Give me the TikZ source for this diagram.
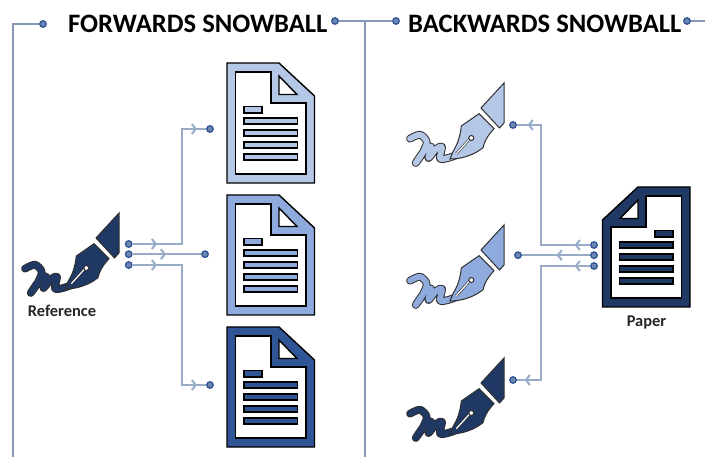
\documentclass[tikz,border=0pt]{standalone}
\usepackage{fontspec}
\setmainfont{Carlito}
\usetikzlibrary{arrows.meta, positioning, decorations.markings}
\definecolor{toneA}{HTML}{B4C7E7}
\definecolor{toneB}{HTML}{8FAADC}
\definecolor{toneC}{HTML}{2F5597}
\definecolor{toneD}{HTML}{1F3864}
\definecolor{linkblue}{HTML}{98ACC8}
\definecolor{frameblue}{HTML}{8497B8}
\definecolor{dotfill}{HTML}{6F86B0}
\definecolor{penline}{HTML}{303030}

\begin{document}
\begin{tikzpicture}[x=1pt, y=-1pt]
    \tikzset{
      heading/.style={font=\bfseries\fontsize{26.6}{26.6}\selectfont, inner sep=0pt},
      caption/.style={font=\bfseries\fontsize{16.4}{16.4}\selectfont, text=black!85, inner sep=0pt},
      dot/.style={circle, draw=toneC, fill=dotfill, line width=1.3pt, minimum size=6.5pt, inner sep=0pt},
      frameline/.style={draw=frameblue, line width=1.8pt},
      onemark/.style={postaction={decorate, decoration={markings,
        mark=at position #1 with {\arrow[line width=2pt]{Straight Barb[length=4pt, width=10pt]}}}}},
      twomarks/.style 2 args={onemark=#1, onemark=#2},
      link/.style={draw=linkblue, color=linkblue, line width=1.8pt},
      pics/docicon/.style={code={
        \fill[#1, draw=black, line width=1.4pt] (0,0) -- (52,0) -- (87.5,33) -- (87.5,120) -- (0,120) -- cycle;
        \fill[white, draw=black, line width=1.4pt] (8.5,9) -- (44,9) -- (44,40) -- (79,40) -- (79,111) -- (8.5,111) -- cycle;
        \fill[white, draw=black, line width=1.4pt] (52,13) -- (52,31.5) -- (70,31.5) -- cycle;
        \filldraw[#1, draw=black, line width=1.4pt] (17,43.5) rectangle (35,50);
        \foreach \y in {55,67,79,91}
          \filldraw[#1, draw=black, line width=1.4pt] (17,\y) rectangle (70.5,\y+6);
      }},
      pics/penicon/.style={code={
        \draw[penline, line width=7.8pt, line cap=round, line join=round] plot[smooth, tension=.5] coordinates {(-94,55.7) (-84,51.7) (-77.3,59) (-82,71) (-88.3,80) (-80,68) (-73,63.5) (-75.5,75) (-68,66) (-62,64) (-64,75.5) (-56,75) (-48.3,72.3)};
        \draw[#1, line width=5.8pt, line cap=round, line join=round] plot[smooth, tension=.5] coordinates {(-94,55.7) (-84,51.7) (-77.3,59) (-82,71) (-88.3,80) (-80,68) (-73,63.5) (-75.5,75) (-68,66) (-62,64) (-64,75.5) (-56,75) (-48.3,72.3)};
        \filldraw[#1, draw=penline, line width=1pt] (0,0) -- (-23,25) -- (-4.5,45) -- (0,40) -- cycle;
        \filldraw[#1, draw=penline, line width=1pt] (-25,30.7) -- (-42.7,43) .. controls (-44,55) and (-47,62) .. (-50.7,68) -- (-54,76) .. controls (-42,76) and (-30,72) .. (-21,64.7) .. controls (-19,56) and (-14,50) .. (-10,45.7) -- cycle;
        \draw[penline, line width=2.4pt] (-47.7,70.7) -- (-33.5,55);
        \draw[white, line width=1.2pt] (-47.7,70.7) -- (-33.5,55);
        \filldraw[white, draw=penline, line width=1pt] (-32.7,55) circle (2.5);
      }}
    }
    \useasboundingbox (0,0) rectangle (705,457);

    \node[heading, anchor=west] (forwards) at (68,24) {FORWARDS SNOWBALL};
    \node[heading, anchor=west] (backwards) at (408,24) {BACKWARDS SNOWBALL};
    \node[dot] (framea) at (43,24) {};
    \node[dot] (frameb) at (335,21) {};
    \node[dot] (framec) at (396,21) {};
    \node[dot] (framed) at (687,21) {};
    \coordinate (cornera) at (13,24);
    \coordinate (basea) at (13,457);
    \coordinate (joinb) at (365,21);
    \coordinate (baseb) at (365,457);
    \coordinate (edged) at (705,21);
    \draw[frameline] (framea) -- (cornera) -- (basea);
    \draw[frameline] (frameb) -- (framec);
    \draw[frameline] (joinb) -- (baseb);
    \draw[frameline] (framed) -- (edged);

    \path (227,63) pic (doca) {docicon=toneA};
    \path (227,195) pic (docb) {docicon=toneB};
    \path (227,327) pic (docc) {docicon=toneC};
    \path (690,187) pic[xscale=-1] (paper) {docicon=toneD};
    \path (119,213) pic (penref) {penicon=toneD};
    \path (504,83) pic (pena) {penicon=toneA};
    \path (504,225) pic (penb) {penicon=toneB};
    \path (504,358) pic (penc) {penicon=toneD};
    \node[caption] (reflabel) at (62,311) {Reference};
    \node[caption] (paperlabel) at (646.5,322) {Paper};

    \node[dot] (refa) at (128.7,244) {};
    \node[dot] (refb) at (128.7,254.2) {};
    \node[dot] (refc) at (128.7,265) {};
    \node[dot] (inda) at (210,129) {};
    \node[dot] (indb) at (205,254.2) {};
    \node[dot] (indc) at (210,385) {};
    \coordinate (benda) at (182,129);
    \coordinate (bendc) at (182,385);
    \draw[link, twomarks={24.5pt}{179.5pt}] (refa) -| (benda) -- (inda);
    \draw[link, onemark=33.5pt] (refb) -- (indb);
    \draw[link, twomarks={24.5pt}{184.5pt}] (refc) -| (bendc) -- (indc);

    \node[dot] (papera) at (594,245) {};
    \node[dot] (paperb) at (594,255.2) {};
    \node[dot] (paperc) at (594,266) {};
    \node[dot] (outa) at (513,125) {};
    \node[dot] (outb) at (518,255.2) {};
    \node[dot] (outc) at (513,380) {};
    \coordinate (bendd) at (541,125);
    \coordinate (bende) at (541,380);
    \draw[link, twomarks={15.5pt}{182.5pt}] (papera) -| (bendd) -- (outa);
    \draw[link, onemark=33.5pt] (paperb) -- (outb);
    \draw[link, twomarks={15.5pt}{179.5pt}] (paperc) -| (bende) -- (outc);
  \end{tikzpicture}
\end{document}
